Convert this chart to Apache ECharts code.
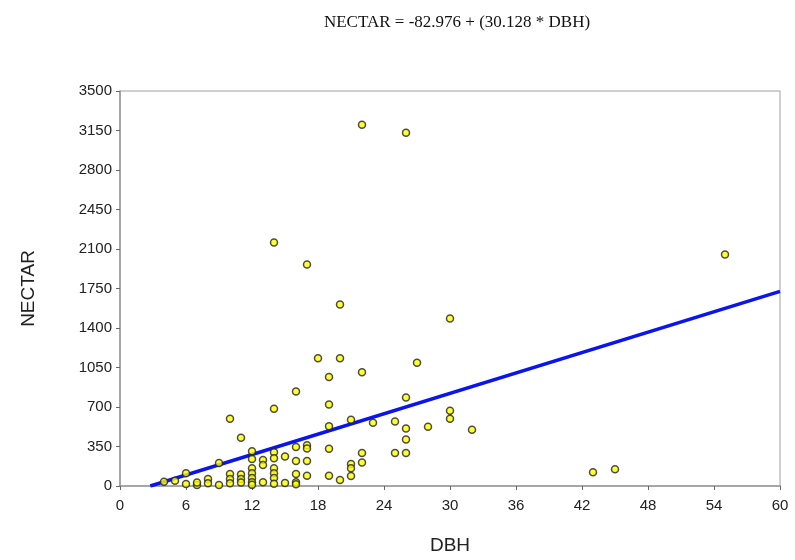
<!DOCTYPE html>
<html><head><meta charset="utf-8">
<script src="https://cdn.jsdelivr.net/npm/echarts@6/dist/echarts.min.js"></script>
<style>html,body{margin:0;padding:0;background:#fff}#c{width:795px;height:560px}</style>
</head><body><div id="c"></div>
<script>
var titleText = "NECTAR = -82.976 + (30.128 * DBH)";
var xName = "DBH";
var yName = "NECTAR";
var dbh = [22,26,14,17,20,55,30,18,20,27,19,22,16,26,14,10,19,19,19,19,11,12,12,12,12,12,12,13,13,13,14,14,14,14,14,15,15,16,16,16,16,17,17,17,17,10,10,11,11,9,8,7,7,6,6,9,5,4,20,30,30,21,23,25,26,28,32,26,22,22,25,26,21,21,21,43,45,8,10,11,12,14,16];
var nectar = [3200,3130,2157,1963,1609,2051,1485,1131,1131,1093,966,1008,837,784,684,595,722,530,330,91,427,307,239,157,112,71,33,230,186,33,298,245,157,112,71,262,27,345,221,106,33,362,333,221,91,106,62,103,62,203,62,9,30,112,18,9,47,38,53,666,595,586,560,572,510,525,498,413,292,209,292,292,195,157,88,121,148,25,25,30,10,20,15];
var intercept = -82.976, slope = 30.128;
var lineX = [2.754, 60];
var xTicks = [0,6,12,18,24,30,36,42,48,54,60];
var yTicks = [0,350,700,1050,1400,1750,2100,2450,2800,3150,3500];

var pts = dbh.map(function(d,i){return [d, nectar[i]];});
var fit = lineX.map(function(x){return [x, intercept + slope*x];});

var chart = echarts.init(document.getElementById('c'));
chart.setOption({
  animation:false,
  title:{text:titleText,left:452,top:9,textAlign:'center',textStyle:{fontFamily:'Liberation Serif',fontSize:17,fontWeight:'normal',color:'#111'}},
  grid:{left:120,right:15,top:91,bottom:73,show:true,borderColor:'#a0a0a0',borderWidth:1},
  xAxis:{type:'value',min:0,max:60,interval:6,name:xName,nameLocation:'middle',nameGap:50,
    nameTextStyle:{fontFamily:'Liberation Sans',fontSize:19,color:'#222'},
    axisLine:{show:true,lineStyle:{color:'#999',width:1.5}},
    axisTick:{show:true,length:4,lineStyle:{color:'#666'}},
    axisLabel:{fontFamily:'Liberation Sans',fontSize:15,color:'#222',margin:12,formatter:function(v){return xTicks.indexOf(v)>=0?String(v):'';}},
    splitLine:{show:false}},
  yAxis:{type:'value',min:0,max:3500,interval:350,name:yName,nameLocation:'middle',nameGap:82,nameRotate:90,
    nameTextStyle:{fontFamily:'Liberation Sans',fontSize:19,color:'#222'},
    axisLine:{show:true,lineStyle:{color:'#999',width:1.5}},
    axisTick:{show:true,length:4,lineStyle:{color:'#666'}},
    axisLabel:{fontFamily:'Liberation Sans',fontSize:15,color:'#222',margin:8,formatter:function(v){return yTicks.indexOf(v)>=0?String(v):'';}},
    splitLine:{show:false}},
  series:[
    {type:'line',data:fit,showSymbol:false,symbol:'none',lineStyle:{color:'#0a14f0',width:3.5},z:2},
    {type:'scatter',data:pts,symbol:'circle',symbolSize:7,itemStyle:{color:'#ffff00',borderColor:'#222',borderWidth:1.5},z:3}
  ]
});
</script></body></html>
